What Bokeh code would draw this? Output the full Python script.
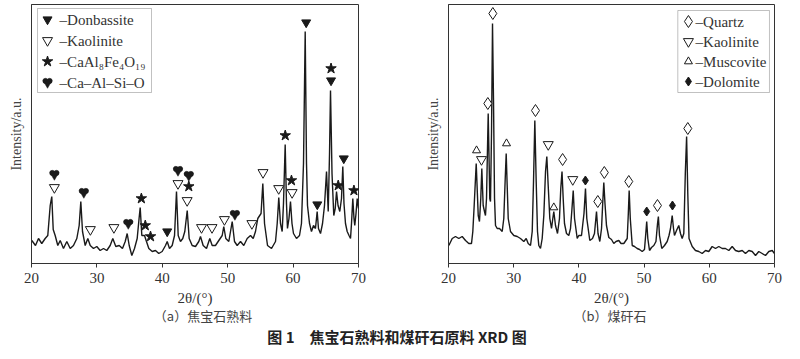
from bokeh.plotting import figure
from bokeh.models import Range1d, FixedTicker, Label, BoxAnnotation, Div
from bokeh.layouts import row, column
from bokeh.embed import file_html
from bokeh.resources import INLINE

# ---------------- data: panel (a) 焦宝石熟料 ----------------
two_theta_a = [20.05, 20.61, 21.07, 21.57, 22.09, 22.49, 22.86, 23.10, 23.32, 23.62, 24.02, 24.39,
               24.89, 25.40, 25.92, 26.42, 26.93, 27.29, 27.54, 27.80, 28.21, 28.61, 28.98, 29.48,
               29.98, 30.50, 31.01, 31.51, 32.03, 32.43, 32.89, 33.41, 33.91, 34.33, 34.63, 34.94,
               35.34, 35.75, 36.16, 36.45, 36.62, 36.87, 37.28, 37.58, 37.94, 38.46, 38.96, 39.46,
               39.98, 40.49, 40.75, 41.10, 41.51, 41.87, 42.17, 42.43, 42.78, 43.13, 43.44, 43.81,
               44.11, 44.57, 45.08, 45.58, 45.84, 46.25, 46.76, 47.26, 47.63, 48.13, 48.64, 49.16,
               49.40, 49.71, 50.17, 50.69, 51.04, 51.45, 51.96, 52.46, 52.98, 53.49, 53.90, 54.25,
               54.60, 55.10, 55.37, 55.63, 56.09, 56.70, 57.31, 57.57, 57.81, 58.07, 58.33, 58.53,
               58.79, 58.99, 59.14, 59.37, 59.60, 59.83, 60.06, 60.52, 60.98, 61.28, 61.59, 61.85,
               62.05, 62.20, 62.51, 62.81, 63.12, 63.42, 63.68, 63.88, 64.19, 64.50, 64.80, 65.11,
               65.37, 65.57, 65.72, 65.95, 66.22, 66.44, 66.64, 66.87, 67.14, 67.40, 67.60, 67.78,
               68.01, 68.27, 68.55, 68.78, 68.93, 69.13, 69.31, 69.43, 69.62, 69.80, 70.00]
intensity_a = [23, 18, 25, 20, 25, 28, 58, 67, 34, 28, 18, 23,
               15, 22, 15, 18, 25, 38, 62, 32, 18, 25, 18, 15,
               17, 13, 15, 13, 18, 25, 17, 18, 15, 22, 30, 18,
               8, 15, 25, 45, 56, 28, 28, 22, 15, 12, 13, 10,
               12, 18, 22, 15, 18, 28, 72, 28, 22, 25, 32, 53,
               25, 18, 17, 22, 27, 18, 15, 25, 18, 18, 23, 28,
               37, 25, 22, 42, 22, 18, 22, 18, 25, 28, 25, 32,
               45, 50, 80, 40, 18, 15, 22, 40, 66, 40, 32, 60,
               119, 60, 35, 45, 62, 40, 30, 25, 28, 40, 100, 232,
               100, 58, 40, 32, 38, 35, 52, 35, 30, 40, 58, 92,
               52, 110, 173, 90, 48, 55, 72, 58, 52, 65, 97, 60,
               40, 32, 28, 25, 40, 65, 45, 38, 50, 65, 55]

donbassite_x = [40.75, 62.0, 63.7, 65.8, 67.75]
donbassite_y = [32, 241, 59, 183, 105]
kaolinite_a_x = [23.5, 29.0, 32.6, 42.4, 43.8, 46.0, 47.6, 49.5, 53.7, 55.4, 57.8, 59.85]
kaolinite_a_y = [76, 34, 36, 80, 63, 36, 36, 44, 40, 91, 75, 71]
ca_al_fe_x = [36.8, 37.4, 38.2, 44.05, 58.8, 59.75, 65.8, 66.9, 69.3]
ca_al_fe_y = [65, 38, 27, 77, 128, 83, 195, 78, 73]
ca_al_si_x = [23.5, 28.0, 34.8, 42.4, 44.05, 51.1]
ca_al_si_y = [89, 71, 40, 93, 88, 49]

# ---------------- data: panel (b) 煤矸石 ----------------
two_theta_b = [20.05, 20.57, 21.07, 21.58, 22.10, 22.61, 23.11, 23.53, 23.73, 23.94, 24.25, 24.56,
               24.75, 24.95, 25.11, 25.32, 25.52, 25.67, 25.83, 25.98, 26.09, 26.24, 26.33, 26.44,
               26.60, 26.75, 26.90, 27.06, 27.21, 27.47, 27.82, 28.24, 28.48, 28.70, 28.85, 29.00,
               29.16, 29.51, 30.02, 30.54, 31.04, 31.55, 31.92, 32.22, 32.58, 32.84, 33.04, 33.24,
               33.45, 33.65, 33.85, 34.11, 34.37, 34.62, 34.88, 35.08, 35.29, 35.54, 35.80, 36.00,
               36.15, 36.41, 36.72, 37.02, 37.22, 37.41, 37.59, 37.79, 38.10, 38.45, 38.71, 38.94,
               39.13, 39.33, 39.74, 39.98, 40.40, 40.78, 41.01, 41.21, 41.67, 42.09, 42.39, 42.70,
               42.93, 43.21, 43.47, 43.65, 43.82, 44.00, 44.23, 44.59, 45.00, 45.35, 45.69, 46.12,
               46.46, 46.89, 47.41, 47.58, 47.71, 47.88, 48.18, 48.53, 48.94, 49.30, 49.71, 50.06,
               50.26, 50.40, 50.57, 50.83, 51.13, 51.49, 51.82, 52.06, 52.19, 52.36, 52.71, 53.13,
               53.54, 53.82, 54.05, 54.31, 54.51, 54.66, 54.97, 55.32, 55.58, 55.84, 56.09, 56.32,
               56.52, 56.70, 56.89, 57.38, 57.88, 58.39, 58.91, 59.42, 59.92, 60.44, 60.95, 61.46,
               61.98, 62.48, 62.99, 63.51, 64.02, 64.52, 65.05, 65.55, 66.06, 66.58, 67.09, 67.59,
               68.11, 68.62, 69.13, 69.65, 70.00]
intensity_b = [18, 25, 27, 25, 27, 23, 20, 20, 32, 58, 100, 48,
               42, 65, 95, 58, 52, 48, 65, 115, 150, 98, 65, 62,
               132, 240, 165, 65, 38, 35, 35, 32, 45, 85, 110, 78,
               45, 32, 28, 27, 25, 22, 25, 20, 18, 32, 82, 143,
               82, 32, 18, 15, 25, 48, 92, 107, 78, 45, 35, 45,
               52, 38, 30, 45, 75, 92, 65, 40, 30, 28, 35, 55,
               73, 45, 25, 28, 28, 50, 75, 45, 23, 25, 30, 52,
               30, 22, 35, 60, 81, 60, 38, 26, 24, 20, 22, 23,
               20, 20, 25, 50, 73, 45, 18, 17, 15, 14, 12, 14,
               30, 42, 25, 13, 16, 18, 22, 40, 47, 28, 15, 18,
               22, 28, 35, 48, 35, 28, 33, 38, 30, 25, 30, 90,
               127, 70, 25, 17, 13, 12, 10, 13, 12, 17, 15, 17,
               15, 15, 13, 17, 13, 12, 13, 10, 13, 12, 8, 12,
               10, 8, 12, 13, 10]

quartz_x = [26.03, 26.8, 33.34, 37.5, 42.9, 43.9, 47.65, 52.05, 56.7]
quartz_y = [160, 250, 153, 104, 62, 91, 82, 58, 135]
kaolinite_b_x = [25.06, 35.3, 39.06]
kaolinite_b_y = [104, 119, 84]
muscovite_x = [24.3, 28.9, 36.15]
muscovite_y = [113, 120, 56]
dolomite_x = [41.0, 50.4, 54.35]
dolomite_y = [83, 52, 58]

x_ticks = [20, 30, 40, 50, 60, 70]
x_label = "2θ/(°)"
y_label = "Intensity/a.u."
caption_a = "（a）焦宝石熟料"
caption_b = "（b）煤矸石"
fig_title = "图 1　焦宝石熟料和煤矸石原料 XRD 图"
legend_a = ["–Donbassite", "–Kaolinite", "–CaAl₈Fe₄O₁₉", "–Ca–Al–Si–O"]
legend_b = ["–Quartz", "–Kaolinite", "–Muscovite", "–Dolomite"]

SERIF = "Liberation Serif"
INK = "#1a1a1a"
TOP = 4
FRAME_H = 259
FRAME_W_A = 327
FIG_H = 308
X_SPAN = 50.0
Y_SPAN = 259.0


def make_panel(xs, ys, width, border_left, border_right):
    p = figure(width=width, height=FIG_H, x_range=Range1d(20, 70), y_range=Range1d(0, Y_SPAN),
               output_backend="svg", toolbar_location=None,
               min_border_left=border_left, min_border_right=border_right,
               min_border_top=TOP, min_border_bottom=FIG_H - TOP - FRAME_H)
    p.grid.visible = False
    p.outline_line_color = "#333333"
    p.outline_line_width = 1
    p.background_fill_color = "white"
    p.border_fill_color = "white"

    xa = p.xaxis[0]
    xa.ticker = FixedTicker(ticks=x_ticks)
    xa.minor_tick_line_color = None
    xa.major_tick_in = 0
    xa.major_tick_out = 4
    xa.major_tick_line_color = "#333333"
    xa.axis_line_color = "#333333"
    xa.major_label_text_font = SERIF
    xa.major_label_text_font_size = "15px"
    xa.major_label_text_color = "#333333"
    xa.major_label_standoff = 5
    xa.axis_label = x_label
    xa.axis_label_text_font = SERIF
    xa.axis_label_text_font_size = "15px"
    xa.axis_label_text_font_style = "normal"
    xa.axis_label_text_color = "#333333"
    xa.axis_label_standoff = 4

    ya = p.yaxis[0]
    ya.ticker = FixedTicker(ticks=[])
    ya.minor_tick_line_color = None
    ya.major_tick_line_color = None
    ya.axis_line_color = "#333333"
    ya.axis_label = y_label
    ya.axis_label_text_font = SERIF
    ya.axis_label_text_font_size = "14px"
    ya.axis_label_text_font_style = "normal"
    ya.axis_label_text_color = "#444444"
    ya.axis_label_standoff = 8

    p.line(xs, ys, line_color=INK, line_width=1.4)
    return p


def add_legend_box(p, left, right, top, bottom):
    p.add_layout(BoxAnnotation(left=left, right=right, top=top, bottom=bottom,
                               fill_color="white", fill_alpha=1.0, level="underlay",
                               line_color="#333333", line_width=1))


def add_label(p, x, y, text):
    p.add_layout(Label(x=x, y=y, text=text, text_font=SERIF, text_font_size="15px",
                       text_color="#333333", text_baseline="middle", text_align="left"))


def heart(p, xs, ys):
    # filled heart symbol: two lobes and a point, sized in pixels
    dx = 2.1 * X_SPAN / FRAME_W_A   # 2.1 px in data units
    up = 1.6 * Y_SPAN / FRAME_H     # 1.6 px
    dn = 0.6 * Y_SPAN / FRAME_H
    p.scatter([x - dx for x in xs], [y + up for y in ys], marker="circle", size=5.2,
              fill_color=INK, line_color=INK, line_width=0.5)
    p.scatter([x + dx for x in xs], [y + up for y in ys], marker="circle", size=5.2,
              fill_color=INK, line_color=INK, line_width=0.5)
    p.scatter(xs, [y - dn for y in ys], marker="inverted_triangle", size=9,
              fill_color=INK, line_color=INK, line_width=0.5)


# ---------------- panel a ----------------
pa = make_panel(two_theta_a, intensity_a, 400, 31, 42)
add_legend_box(pa, 20.92, 38.35, 255, 171)
pa.scatter(donbassite_x, donbassite_y, marker="inverted_triangle", size=9,
           fill_color=INK, line_color=INK)
pa.scatter(kaolinite_a_x, kaolinite_a_y, marker="inverted_triangle", size=10,
           fill_color="white", line_color=INK, line_width=1)
pa.scatter(ca_al_fe_x, ca_al_fe_y, marker="star", size=11, fill_color=INK, line_color=INK)
heart(pa, ca_al_si_x, ca_al_si_y)

leg_rows_a = [244, 223, 202, 181]
lx_a = 22.45
pa.scatter([lx_a], [leg_rows_a[0]], marker="inverted_triangle", size=9, fill_color=INK, line_color=INK)
pa.scatter([lx_a], [leg_rows_a[1]], marker="inverted_triangle", size=10, fill_color="white", line_color=INK)
pa.scatter([lx_a], [leg_rows_a[2]], marker="star", size=11, fill_color=INK, line_color=INK)
heart(pa, [lx_a], [leg_rows_a[3]])
for yy, t in zip(leg_rows_a, legend_a):
    add_label(pa, 24.3, yy, t)

# ---------------- panel b ----------------
pb = make_panel(two_theta_b, intensity_b, 398, 48, 24)
add_legend_box(pb, 55.17, 69.23, 253, 171)
pb.scatter(quartz_x, quartz_y, marker="diamond", size=12, fill_color="white", line_color=INK, line_width=1)
pb.scatter(kaolinite_b_x, kaolinite_b_y, marker="inverted_triangle", size=10,
           fill_color="white", line_color=INK, line_width=1)
pb.scatter(muscovite_x, muscovite_y, marker="triangle", size=8, fill_color="white", line_color=INK, line_width=1)
pb.scatter(dolomite_x, dolomite_y, marker="diamond", size=9, fill_color=INK, line_color=INK)

leg_rows_b = [242, 222, 202, 182]
lx_b = 56.8
pb.scatter([lx_b], [leg_rows_b[0]], marker="diamond", size=12, fill_color="white", line_color=INK)
pb.scatter([lx_b], [leg_rows_b[1]], marker="inverted_triangle", size=10, fill_color="white", line_color=INK)
pb.scatter([lx_b], [leg_rows_b[2]], marker="triangle", size=8, fill_color="white", line_color=INK)
pb.scatter([lx_b], [leg_rows_b[3]], marker="diamond", size=9, fill_color=INK, line_color=INK)
for yy, t in zip(leg_rows_b, legend_b):
    add_label(pb, 57.9, yy, t)

CAP = "font-family:'Noto Sans CJK SC';font-size:13px;color:#444;line-height:16px;text-align:center;position:absolute;"
TTL = ("font-family:'Noto Sans CJK SC';font-size:15px;font-weight:bold;color:#222;line-height:20px;"
       "text-align:center;position:absolute;")
footer_html = (
    '<div style="position:relative;width:798px;height:38px;">'
    f'<div style="{CAP}left:0px;top:-5px;width:396px;">{caption_a}</div>'
    f'<div style="{CAP}left:400px;top:-5px;width:410px;">{caption_b}</div>'
    f'<div style="{TTL}left:0px;top:14px;width:784px;">{fig_title}</div>'
    '</div>'
)
footer = Div(text=footer_html, width=798, height=38)

layout = column(row(pa, pb), footer)
open("out.html", "w").write(file_html(layout, INLINE))
